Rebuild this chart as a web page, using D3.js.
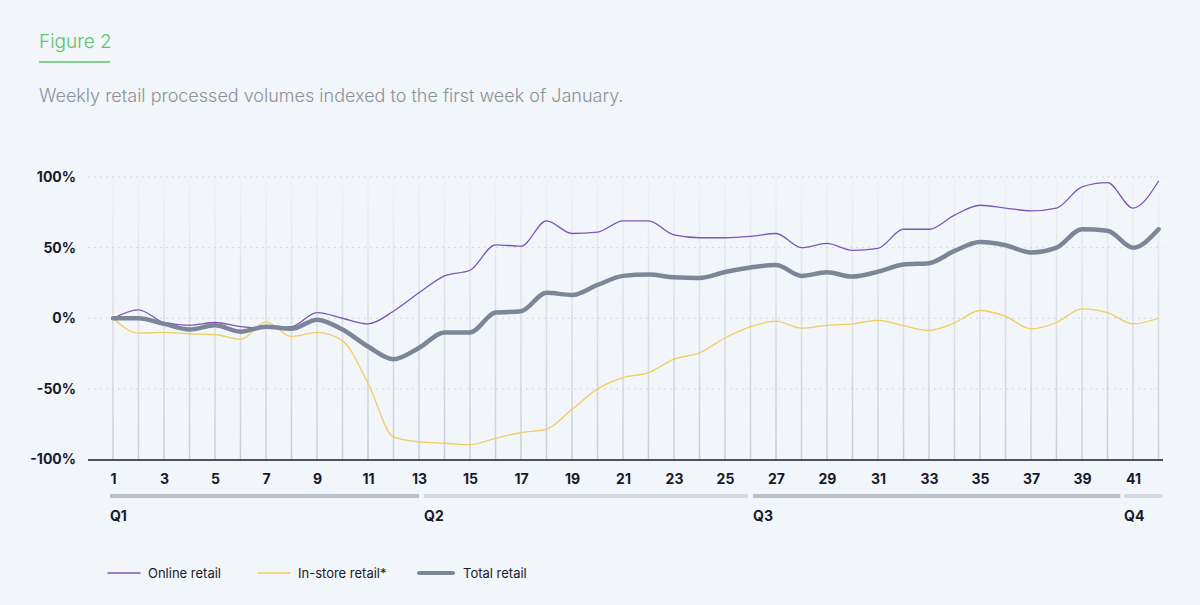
<!DOCTYPE html>
<html>
<head>
<meta charset="utf-8">
<script src="https://cdn.jsdelivr.net/npm/d3@7"></script>
<style>
  body { margin: 0; background: #f2f5f9; }
  svg { display: block; font-family: Inter, "Noto Sans", sans-serif; }
</style>
</head>
<body>
<div id="chart"></div>
<script>
// weeks 1..42
var weeks = d3.range(1, 43);
var online = [0, 6, -3, -5, -3, -6, -7, -6, 4, 0, -4, 5, 18, 30, 34, 52, 51, 69, 60, 61, 69, 69, 59, 57, 57, 58, 60, 50, 53, 48, 49.5, 63, 63, 73, 80, 78, 76, 78, 93, 96, 78, 97];
var inStore = [0, -10.5, -10, -11, -11.5, -15, -2.5, -13, -10, -16, -46, -84, -87.5, -88.5, -89.5, -85, -81, -78.5, -64.5, -50, -42, -38.5, -29, -24.5, -14, -6, -2, -7, -5, -4, -1.5, -5.3, -8.6, -3.3, 5.5, 1.3, -7.5, -3, 6.7, 4, -4, 0];
var total = [0, 0, -4, -8, -5, -9.5, -6, -7.5, -1, -8, -20, -29, -21, -10, -10, 4, 5, 18, 16.5, 23.6, 30, 31, 29, 28.5, 32.7, 36, 37.7, 30, 32.5, 29.5, 33, 38, 39, 47.7, 54, 51.7, 46.6, 50, 63, 62, 50, 63];
var yTicks = [100, 50, 0, -50, -100];
var xTicks = d3.range(1, 42, 2);
// quarter spans in week units
var quarters = [
  { name: "Q1", from: 0.88, to: 13, shade: "#bcc1ca" },
  { name: "Q2", from: 13.2, to: 25.9, shade: "#d6d9df" },
  { name: "Q3", from: 26.1, to: 40.5, shade: "#bcc1ca" },
  { name: "Q4", from: 40.65, to: 42.15, shade: "#d6d9df" }
];
var series = [
  { name: "Online retail", values: online, color: "#7d56b6", width: 1.3 },
  { name: "In-store retail*", values: inStore, color: "#f0cd5e", width: 1.3 },
  { name: "Total retail", values: total, color: "#7c8698", width: 4.5 }
];

var width = 1200, height = 605;
var svg = d3.select("#chart").append("svg")
    .attr("width", width)
    .attr("height", height);

// title block
svg.append("text")
    .attr("x", 39).attr("y", 48)
    .attr("fill", "#5cc46f")
    .attr("font-size", 19)
    .attr("font-weight", 300)
    .text("Figure 2");
svg.append("line")
    .attr("x1", 39).attr("x2", 110)
    .attr("y1", 62).attr("y2", 62)
    .attr("stroke", "#5cc46f")
    .attr("stroke-width", 1.5);
svg.append("text")
    .attr("x", 39).attr("y", 102)
    .attr("fill", "#8b9199")
    .attr("font-size", 18)
    .attr("font-weight", 300)
    .text("Weekly retail processed volumes indexed to the first week of January.");

var x = d3.scaleLinear().domain([1, 41]).range([113, 1133]);
var y = d3.scaleLinear().domain([-100, 100]).range([459.5, 177]);

var defs = svg.append("defs");
var grad = defs.append("linearGradient")
    .attr("id", "vfade")
    .attr("gradientUnits", "userSpaceOnUse")
    .attr("x1", 0).attr("x2", 0)
    .attr("y1", 460).attr("y2", 170);
grad.append("stop").attr("offset", "0%").attr("stop-color", "#c9cdd5").attr("stop-opacity", 1);
grad.append("stop").attr("offset", "100%").attr("stop-color", "#c9cdd5").attr("stop-opacity", 0.05);

// vertical week lines
svg.append("g").selectAll("line")
    .data(weeks)
    .enter().append("line")
    .attr("x1", d => x(d)).attr("x2", d => x(d))
    .attr("y1", 170).attr("y2", 460)
    .attr("stroke", "url(#vfade)")
    .attr("stroke-width", 1.5);

// horizontal dotted grid
svg.append("g").selectAll("line")
    .data(yTicks.filter(d => d > -100))
    .enter().append("line")
    .attr("x1", 88).attr("x2", 1163)
    .attr("y1", d => y(d)).attr("y2", d => y(d))
    .attr("stroke", "#d3d7de")
    .attr("stroke-width", 1)
    .attr("stroke-dasharray", "2,4");

// y axis labels
var yAxis = svg.append("g")
    .attr("transform", "translate(76,0)")
    .call(d3.axisLeft(y).tickValues(yTicks).tickSize(0).tickPadding(0).tickFormat(d => d + "%"));
yAxis.select(".domain").remove();
yAxis.selectAll("text")
    .attr("font-family", "Inter, 'Noto Sans', sans-serif")
    .attr("font-size", 14)
    .attr("font-weight", 700)
    .attr("fill", "#161b2b");

// x axis
var xAxis = svg.append("g")
    .attr("transform", "translate(0,460)")
    .call(d3.axisBottom(x).tickValues(xTicks).tickSize(0).tickPadding(14).tickFormat(d3.format("d")));
xAxis.select(".domain").remove();
xAxis.selectAll("text")
    .attr("font-family", "Inter, 'Noto Sans', sans-serif")
    .attr("font-size", 14)
    .attr("font-weight", 700)
    .attr("fill", "#161b2b");
svg.append("line")
    .attr("x1", 88).attr("x2", 1163)
    .attr("y1", 460).attr("y2", 460)
    .attr("stroke", "#161b2b")
    .attr("stroke-width", 1.5);

// quarter bars
var qg = svg.append("g");
qg.selectAll("rect")
    .data(quarters)
    .enter().append("rect")
    .attr("x", d => x(d.from))
    .attr("width", d => x(d.to) - x(d.from))
    .attr("y", 494)
    .attr("height", 4)
    .attr("fill", d => d.shade);
qg.selectAll("text")
    .data(quarters)
    .enter().append("text")
    .attr("x", d => x(d.from))
    .attr("y", 521)
    .attr("font-size", 14)
    .attr("font-weight", 700)
    .attr("fill", "#161b2b")
    .text(d => d.name);

// lines
var line = d3.line()
    .x((d, i) => x(weeks[i]))
    .y(d => y(d))
    .curve(d3.curveMonotoneX);

svg.append("g").selectAll("path")
    .data(series)
    .enter().append("path")
    .attr("d", d => line(d.values))
    .attr("fill", "none")
    .attr("stroke", d => d.color)
    .attr("stroke-width", d => d.width)
    .attr("stroke-linecap", "round")
    .attr("stroke-linejoin", "round");

// legend
var legendX = [108, 258, 419];
var lg = svg.append("g").selectAll("g")
    .data(series)
    .enter().append("g")
    .attr("transform", (d, i) => "translate(" + legendX[i] + ",573)");
lg.append("line")
    .attr("x1", 0).attr("x2", (d, i) => i == 2 ? 34 : 32)
    .attr("stroke", d => d.color)
    .attr("stroke-width", d => d.width == 4.5 ? 4 : 1.5)
    .attr("stroke-linecap", "round");
lg.append("text")
    .attr("x", (d, i) => i == 2 ? 44 : 40)
    .attr("y", 5)
    .attr("font-size", 13)
    .attr("fill", "#161b2b")
    .text(d => d.name);
</script>
</body>
</html>
